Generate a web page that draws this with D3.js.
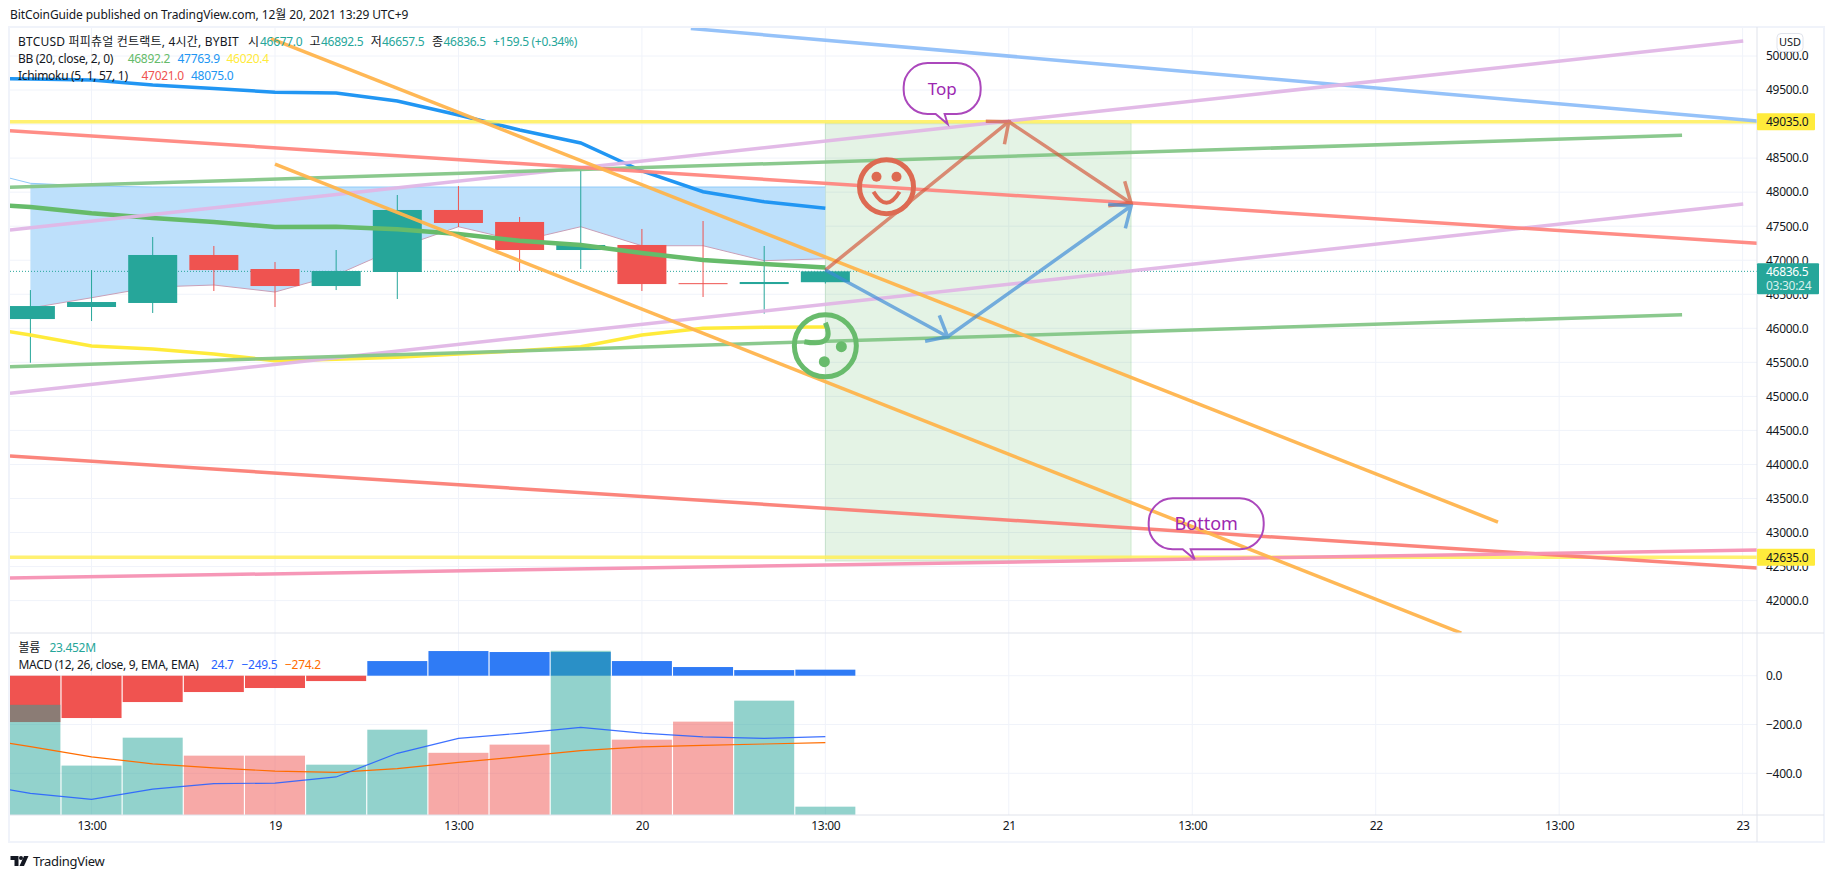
<!DOCTYPE html>
<html><head><meta charset="utf-8">
<script src="https://cdn.jsdelivr.net/npm/d3@7"></script>
<style>
html,body{margin:0;padding:0;background:#fff;overflow:hidden}
svg{display:block}
text{font-family:"Noto Sans","Noto Sans CJK KR",sans-serif;font-size:12px;fill:#131722}
</style></head><body>
<svg id="c" width="1834" height="878"></svg>
<script>
// ---- data ----
const candleOpen  =[46136,46313,46372,47077,46871,46621,46827,47738,47562,47150,47224,46663,46650,46677];
const candleClose =[46327,46386,47077,46856,46621,46842,47738,47547,47150,47224,46650,46650,46680,46836.5];
const candleHigh  =[46562,46856,47341,47209,46974,47150,47958,48090,47635,48325,47459,47576,47209,46892.5];
const candleLow   =[45494,46107,46225,46548,46313,46562,46430,47488,46842,46871,46548,46460,46215,46657.5];
const volume      =[310,139,217.6,167,167,141.6,240,175,198,462,212,262.7,321.7,23.452];
const macdHist    =[-190,-173.5,-108,-67,-50.5,-22,60,101,97,97,60,35.5,23,24.7];
// the line series start one bar before the first candle, at index -1
const lineIdx     =[-1,0,1,2,3,4,5,6,7,8,9,10,11,12,13];
const macdLine    =[-441,-482,-507,-464.5,-442.6,-440,-415,-318,-257,-236,-212,-235,-251,-257,-249.5];
const signalLine  =[-250,-291,-333,-361,-378,-391,-396,-381,-355,-332,-307,-292,-285.5,-280,-274.2];
const bbBasis     =[47840,47782,47689,47620,47561,47488,47492,47454,47385,47287,47223,47106,47003,46944,46892.2];
const bbUpper     =[49669,49662,49647,49574,49523,49467,49456,49339,49133,48913,48722,48311,48006,47860,47763.9];
const bbLower     =[46048,45901,45740,45696,45622,45524,45544,45574,45622,45670,45729,45901,46000,46014,46020.4];
const spanAIdx    =[-1,0,1,2,13];
const spanA       =[48355,48130,48090,48075,48075];
const spanBIdx    =[0,1,2,3,4,5,6,7,8,9,10,11,12,13];
const spanB       =[46298,46449,46606,46636,46533,46783,47179,47492,47282,47492,47213,47213,46993,47021];
const priceTicks  =d3.range(42000,50001,500);
const macdTicks   =[0,-200,-400];
const timeTickIdx =[1,4,7,10,13,16,19,22,25,28];
const timeTickText=["13:00","19","13:00","20","13:00","21","13:00","22","13:00","23"];
const trendNames  =["lightblue","purpleA","purpleB","greenA","greenB","redA","redB","pink","orangeA","orangeB"];
const trendIdx0   =[10.80,-0.334,-0.334,-0.334,-0.334,-0.334,-0.334,-0.334,3.935,4.0];
const trendIdx1   =[28.24,28.01,28.01,27.01,27.01,28.24,28.24,28.24,24.0,23.4];
const trendP0     =[50404,47444,45045,48071,45436,48903,44124,42331,50256,48413];
const trendP1     =[49045,50220,47826,48835,46199,47248,42478,42743,43154,41523];
const trendColor  =["#90bff9","#e1b7e6","#e1b7e6","#85c788","#85c788","#ff8780","#fb7f76","#f692b4","#ffb54d","#ffb54d"];
const levels      =[49035,42635];
const lastPrice   =46836.5;
const boxIdx      =[13,18];
const boxPrice    =[49016,42581];
const arrowRedIdx =[13,16,18];
const arrowRedP   =[46856,49035,47836];
const arrowBlueIdx=[13,15,18];
const arrowBlueP  =[46856,45876,47796];
// ---- layout and scales ----
const L=10,R=1757,T=28,M=633,B=815;
const x=d3.scaleLinear().domain([0,28]).range([30.4,1742.6]);
const y=d3.scaleLinear().domain([50000,42000]).range([56,600.6]);
const ym=d3.scaleLinear().domain([0,-400]).range([675.7,773.3]);
const yv=d3.scaleLinear().domain([0,100]).range([B,B-35.54]);
const svg=d3.select("#c");
const defs=svg.append("defs");
defs.append("clipPath").attr("id","pp").append("rect").attr("x",L).attr("y",T).attr("width",R-L).attr("height",M-T);
defs.append("clipPath").attr("id","pm").append("rect").attr("x",L).attr("y",M).attr("width",R-L).attr("height",B-M);
const GRID="#f0f3fa",BORDER="#e0e3eb",UP="#26a69a",DN="#ef5350";
const FR="#f0f3fa";
// grid
const g0=svg.append("g");
g0.selectAll(".h").data(priceTicks).join("line").attr("x1",L).attr("x2",R).attr("y1",d=>y(d)).attr("y2",d=>y(d)).attr("stroke",GRID);
g0.selectAll(".m").data(macdTicks).join("line").attr("x1",L).attr("x2",R).attr("y1",d=>ym(d)).attr("y2",d=>ym(d)).attr("stroke",GRID);
g0.selectAll(".v").data(timeTickIdx).join("line").attr("x1",d=>x(d)).attr("x2",d=>x(d)).attr("y1",T).attr("y2",B).attr("stroke",GRID);
// price pane
const p=svg.append("g").attr("clip-path","url(#pp)");
p.append("rect").attr("x",x(boxIdx[0])).attr("width",x(boxIdx[1])-x(boxIdx[0])).attr("y",y(boxPrice[0])).attr("height",y(boxPrice[1])-y(boxPrice[0]))
 .attr("fill","rgba(76,175,80,0.15)").attr("stroke","rgba(76,175,80,0.2)");
// cloud
const spanBAt=i=>spanB[spanBIdx.indexOf(i)];
const areaData=spanBIdx.map(i=>{
  const j=d3.bisectLeft(spanAIdx,i);
  const a=spanAIdx[j]===i?spanA[j]:spanA[j-1]+(spanA[j]-spanA[j-1])*(i-spanAIdx[j-1])/(spanAIdx[j]-spanAIdx[j-1]);
  return {i,a,b:spanBAt(i)};
});
p.append("path").datum(areaData).attr("fill","#bde0fb")
 .attr("d",d3.area().x(d=>x(d.i)).y0(d=>y(d.b)).y1(d=>y(d.a)));
const ln=(xs,ys)=>d3.line()(xs.map((v,i)=>[x(v),y(ys[i])]));
p.append("path").attr("d",ln(spanAIdx,spanA)).attr("fill","none").attr("stroke","#90caf9").attr("stroke-width",1);
p.append("path").attr("d",ln(spanBIdx,spanB)).attr("fill","none").attr("stroke","#c9a0b8").attr("stroke-width",1);
// last price
p.append("line").attr("x1",L).attr("x2",R).attr("y1",y(lastPrice)).attr("y2",y(lastPrice)).attr("stroke",UP).attr("stroke-dasharray","1 2");
// candles
const idx=candleOpen.map((_,i)=>i);
const col=i=>candleClose[i]>=candleOpen[i]?UP:DN;
p.selectAll(".w").data(idx).join("line").attr("x1",i=>x(i)).attr("x2",i=>x(i)).attr("y1",i=>y(candleHigh[i])).attr("y2",i=>y(candleLow[i])).attr("stroke",col);
p.selectAll(".b").data(idx).join("rect").attr("x",i=>x(i)-24.5).attr("width",49)
 .attr("y",i=>y(Math.max(candleOpen[i],candleClose[i])))
 .attr("height",i=>Math.max(1,Math.abs(y(candleOpen[i])-y(candleClose[i])))).attr("fill",col);
// indicators
[[bbLower,"#ffeb3b",3.5],[bbUpper,"#2196f3",3.5],[bbBasis,"#66bb6a",4.5]].forEach(([s,c,w])=>{
  p.append("path").attr("d",ln(lineIdx,s)).attr("fill","none").attr("stroke",c).attr("stroke-width",w);
});
// horizontal levels
p.selectAll(".lv").data(levels).join("line").attr("x1",L).attr("x2",R).attr("y1",d=>y(d)).attr("y2",d=>y(d)).attr("stroke","#ffee58").attr("stroke-opacity",.85).attr("stroke-width",3.5);
// trend lines
p.selectAll(".t").data(trendNames).join("line")
 .attr("x1",(d,i)=>x(trendIdx0[i])).attr("x2",(d,i)=>x(trendIdx1[i]))
 .attr("y1",(d,i)=>y(trendP0[i])).attr("y2",(d,i)=>y(trendP1[i]))
 .attr("stroke",(d,i)=>trendColor[i]).attr("stroke-width",3.5).attr("opacity",.95);
// arrows
function arrows(xs,ps,color){
  const pts=xs.map((v,i)=>[x(v),y(ps[i])]);
  const g=p.append("g").attr("stroke",color).attr("stroke-width",3.5).attr("fill","none").attr("opacity",.68);
  g.append("path").attr("d",d3.line()(pts));
  for(let k=1;k<pts.length;k++){
    const [a,b]=[pts[k-1],pts[k]],ang=Math.atan2(a[1]-b[1],a[0]-b[0]),h=23,s=0.7;
    g.append("path").attr("d",d3.line()([[b[0]+h*Math.cos(ang+s),b[1]+h*Math.sin(ang+s)],b,[b[0]+h*Math.cos(ang-s),b[1]+h*Math.sin(ang-s)]]));
  }
}
arrows(arrowRedIdx,arrowRedP,"#d4593c");
arrows(arrowBlueIdx,arrowBlueP,"#3d8bd8");
// faces
const smile=p.append("g").attr("transform",`translate(${x(14)},${y(48080)})`).attr("fill","none").attr("stroke","#dd6a52").attr("stroke-width",5);
smile.append("circle").attr("r",27);
smile.append("path").attr("d","M-13,5 Q0,27 13,5").attr("stroke-width",4);
smile.selectAll("circle.e").data([-10,10]).join("circle").attr("class","e").attr("cx",d=>d).attr("cy",-10).attr("r",5).attr("fill","#dd6a52").attr("stroke","none");
const sad=p.append("g").attr("transform",`translate(${x(13)},${y(45744)})`).attr("fill","none").attr("stroke","#68bb6c").attr("stroke-width",5);
sad.append("circle").attr("r",31);
sad.append("path").attr("d","M0,-23 Q11,2 -21,-4").attr("stroke-width",5);
sad.selectAll("circle.e").data([[16,1],[-1,16]]).join("circle").attr("class","e").attr("cx",d=>d[0]).attr("cy",d=>d[1]).attr("r",5.5).attr("fill","#68bb6c").attr("stroke","none");
// callouts
function callout(i,price,left,right,tailA,tailB,txt,fs){
  const X=x(i),Y=y(price),t=-61,b=-10,r=24;
  const d=`M${left+r},${t}H${right-r}A${r},${r} 0 0 1 ${right},${t+r}V${b-r}A${r},${r} 0 0 1 ${right-r},${b}H${tailB}L0,0L${tailA},${b}H${left+r}A${r},${r} 0 0 1 ${left},${b-r}V${t+r}A${r},${r} 0 0 1 ${left+r},${t}Z`;
  const g=p.append("g").attr("transform",`translate(${X},${Y})`);
  g.append("path").attr("d",d).attr("fill","none").attr("stroke","#ab47bc").attr("stroke-width",2);
  g.append("text").attr("x",(left+right)/2).attr("y",-34).attr("text-anchor","middle").attr("dominant-baseline","middle").style("font-size",fs+"px").style("fill","#9c27b0").text(txt);
}
callout(15,49000,-44,33,-12,-3,"Top",17);
callout(19.04,42606,-46,69,-12,-4,"Bottom",18);
// lower pane
const m=svg.append("g").attr("clip-path","url(#pm)");
m.selectAll(".h").data(idx).join("rect").attr("x",i=>x(i)-30).attr("width",60)
 .attr("y",i=>Math.min(ym(macdHist[i]),ym(0))).attr("height",i=>Math.abs(ym(macdHist[i])-ym(0)))
 .attr("fill",i=>macdHist[i]>=0?"#2f7bf5":"#f05350");
m.selectAll(".v").data(idx).join("rect").attr("x",i=>x(i)-30).attr("width",60)
 .attr("y",i=>yv(volume[i])).attr("height",i=>yv(0)-yv(volume[i]))
 .attr("fill",col).attr("opacity",.5);
const lm=(s)=>d3.line()(lineIdx.map((v,i)=>[x(v),ym(s[i])]));
m.append("path").attr("d",lm(signalLine)).attr("fill","none").attr("stroke","#ff6d00").attr("stroke-width",1.2);
m.append("path").attr("d",lm(macdLine)).attr("fill","none").attr("stroke","#2962ff").attr("stroke-width",1.2).attr("stroke-opacity",.9);
// frame
svg.append("rect").attr("x",9).attr("y",27).attr("width",1815).attr("height",815).attr("fill","none").attr("stroke",FR).attr("stroke-width",2);
svg.append("line").attr("x1",R).attr("x2",R).attr("y1",27).attr("y2",842).attr("stroke",BORDER);
svg.append("line").attr("x1",L).attr("x2",1824).attr("y1",M).attr("y2",M).attr("stroke",BORDER);
svg.append("line").attr("x1",L).attr("x2",1824).attr("y1",B).attr("y2",B).attr("stroke",BORDER);
// axes
const FS="12px",LS="-0.3px";
const ax1=svg.append("g").attr("transform",`translate(${R+9},0)`).call(d3.axisRight(y).tickValues(priceTicks).tickSize(0).tickPadding(0).tickFormat(d3.format(".1f")));
const ax2=svg.append("g").attr("transform",`translate(${R+9},0)`).call(d3.axisRight(ym).tickValues(macdTicks).tickSize(0).tickPadding(0).tickFormat(d=>d3.format(".1f")(d).replace("-","−")));
const ax3=svg.append("g").attr("transform",`translate(0,${B+6})`).call(d3.axisBottom(x).tickValues(timeTickIdx).tickSize(0).tickPadding(0).tickFormat((d,i)=>timeTickText[i]));
[ax1,ax2,ax3].forEach(a=>{a.select(".domain").remove();a.selectAll("text").attr("font-family",null).style("font-size",FS).style("letter-spacing",LS).style("fill","#131722");a.attr("font-size",null).attr("font-family",null);});
// price labels
const tag=(v,fill,tc)=>{
  const g=svg.append("g");
  g.append("rect").attr("x",R).attr("y",y(v)-8.5).attr("width",58).attr("height",17).attr("rx",1).attr("fill",fill);
  g.append("text").attr("x",R+9).attr("y",y(v)).attr("dy","0.36em").style("letter-spacing",LS).style("fill",tc).text(d3.format(".1f")(v));
};
levels.forEach(v=>tag(v,"#ffeb3b","#131722"));
const lt=svg.append("g");
lt.append("rect").attr("x",R).attr("y",y(lastPrice)-8).attr("width",62).attr("height",31).attr("rx",1).attr("fill",UP);
lt.append("text").attr("x",R+9).attr("y",y(lastPrice)).attr("dy","0.36em").style("letter-spacing",LS).style("fill","#fff").text(d3.format(".1f")(lastPrice));
lt.append("text").attr("x",R+9).attr("y",y(lastPrice)+14.5).attr("dy","0.36em").style("letter-spacing",LS).style("fill","#d7f0ed").text("03:30:24");
// USD
svg.append("rect").attr("x",1777).attr("y",33.5).attr("width",26).attr("height",18).attr("rx",4).attr("fill","#fff").attr("stroke",BORDER);
svg.append("text").attr("x",1790).attr("y",42.5).attr("dy","0.36em").attr("text-anchor","middle").style("font-size","11px").text("USD");
// text helpers
const txt=(xp,yp,s,c,fs,ls)=>svg.append("text").attr("x",xp).attr("y",yp).attr("dy","0.36em").style("fill",c||"#131722").style("font-size",fs||"12px").style("letter-spacing",ls||"-0.3px").text(s);
txt(10,15,"BitCoinGuide published on TradingView.com, 12월 20, 2021 13:29 UTC+9",null,null,"-0.1px");
const VAL="#26a69a";
txt(18,41.5,"BTCUSD 퍼피츄얼 컨트랙트, 4시간, BYBIT",null,null,"0.2px");
[["시",248,"#131722"],["46677.0",260,VAL],["고",309.5,"#131722"],["46892.5",321,VAL],["저",370.8,"#131722"],["46657.5",382,VAL],["종",432,"#131722"],["46836.5",443.5,VAL],["+159.5 (+0.34%)",493,VAL]]
 .forEach(d=>txt(d[1],41.5,d[0],d[2]));
txt(18,58.7,"BB (20, close, 2, 0)");
[["46892.2",127.7,"#66bb6a"],["47763.9",177.5,"#2196f3"],["46020.4",226.5,"#ffeb3b"]].forEach(d=>txt(d[1],58.7,d[0],d[2]));
txt(18,76,"Ichimoku (5, 1, 57, 1)");
[["47021.0",141.5,"#ef5350"],["48075.0",191,"#2196f3"]].forEach(d=>txt(d[1],76,d[0],d[2]));
txt(18.5,648,"볼륨");txt(49.4,648,"23.452M",VAL);
txt(18.5,665,"MACD (12, 26, close, 9, EMA, EMA)");
[["24.7",211,"#2962ff"],["−249.5",241.5,"#2962ff"],["−274.2",285,"#ff6d00"]].forEach(d=>txt(d[1],665,d[0],d[2]));
// logo
const lg=svg.append("g").attr("transform","translate(10.5,856)").attr("fill","#131722");
lg.append("path").attr("d","M0,0H8V10H4V4H0Z");
lg.append("circle").attr("cx",10.5).attr("cy",2).attr("r",2);
lg.append("path").attr("d","M13.5,0H18L13.5,10H9Z");
txt(33,861,"TradingView","#131722","13px");
</script>
</body></html>
